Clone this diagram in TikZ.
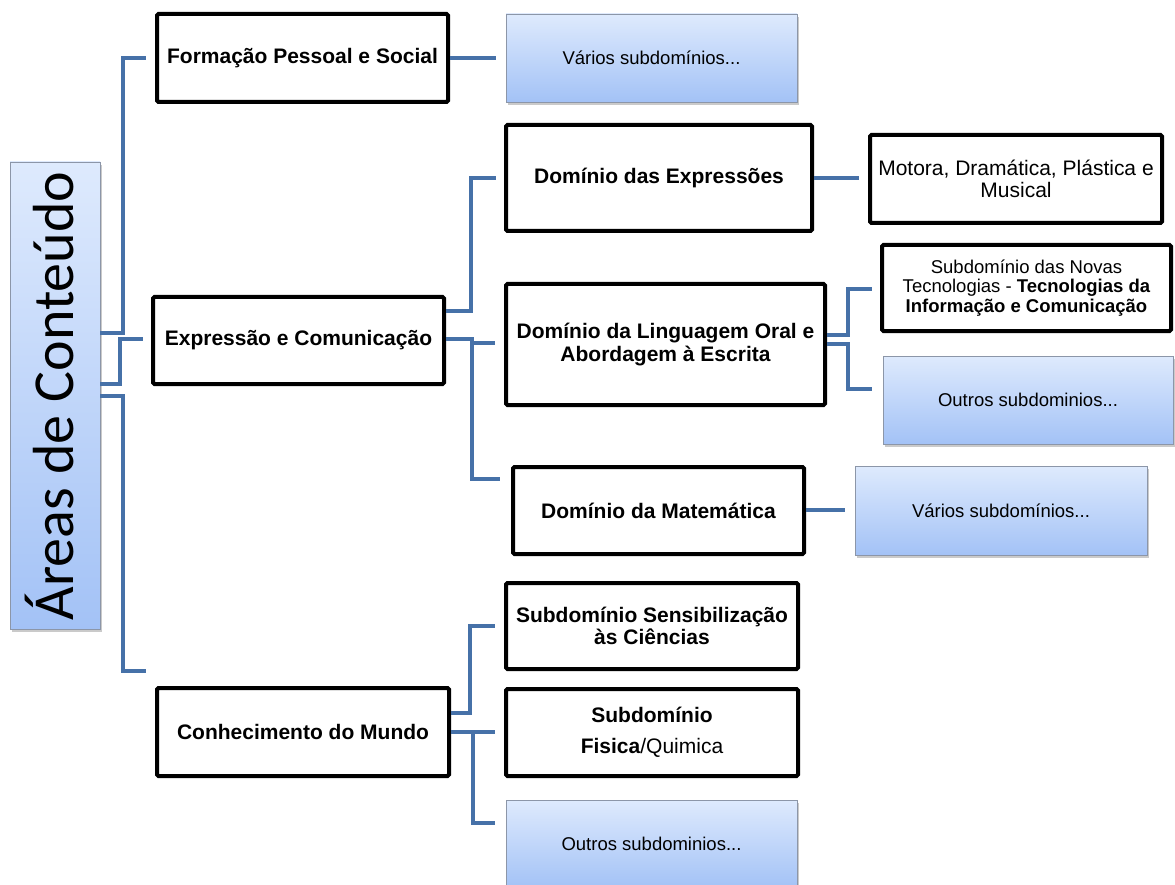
\documentclass[tikz,border=0pt]{standalone}
\usepackage{fontspec}
\setmainfont{Liberation Sans}
\newfontfamily\calib{Carlito}
\usetikzlibrary{shadows}
\definecolor{conncol}{RGB}{70,113,168}
\definecolor{gradtop}{RGB}{222,234,253}
\definecolor{gradbot}{RGB}{163,194,246}
\definecolor{gradedge}{RGB}{140,150,168}
\tikzset{
  blk/.style={draw=black, line width=4pt, rounded corners=1.5pt, fill=white, align=center,
    inner sep=0pt, font=\bfseries\fontsize{21}{22.5}\selectfont},
  grad/.style={draw=gradedge, line width=0.8pt, top color=gradtop, bottom color=gradbot,
    align=center, inner sep=0pt, font=\fontsize{18.5}{20}\selectfont,
    drop shadow={shadow xshift=2pt, shadow yshift=-3pt, opacity=0.35, fill=black!60}},
  conn/.style={draw=conncol, line width=4.5pt},
}
\begin{document}
\begin{tikzpicture}[x=1pt, y=-1pt]
\useasboundingbox (0,0) rectangle (1175,885);

% title box
\node[grad, minimum width=90pt, minimum height=467pt] (areas) at (55,395.5) {};
\node[rotate=90, font=\calib\fontsize{58}{60}\selectfont, inner sep=0pt] (areastxt) at (49,396) {Áreas de Conteúdo};

% level 1
\node[blk, minimum width=291pt, minimum height=88pt] (fps) at (302.5,58) {Formação Pessoal e Social};
\node[blk, minimum width=291pt, minimum height=87pt] (ec) at (298.5,340.5) {Expressão e Comunicação};
\node[blk, minimum width=292pt, minimum height=88pt] (cm) at (303,732) {Conhecimento do Mundo};

% level 2
\node[grad, minimum width=291pt, minimum height=88pt] (v1) at (651.5,58) {Vários subdomínios...};
\node[blk, minimum width=306pt, minimum height=106pt] (de) at (659,178) {Domínio das Expressões};
\node[blk, minimum width=319pt, minimum height=121pt] (dl) at (665.5,344.5) {Domínio da Linguagem Oral e\\Abordagem à Escrita};
\node[blk, minimum width=291pt, minimum height=87pt] (dm) at (658.5,510.5) {Domínio da Matemática};
\node[blk, minimum width=292pt, minimum height=86pt] (sens) at (652,626) {Subdomínio Sensibilização\\às Ciências};
\node[blk, minimum width=292pt, minimum height=87pt] (fis) at (652,732.5) {Subdomínio\\[9pt]Fisica\mdseries/Quimica};
\node[grad, minimum width=291pt, minimum height=88pt] (ou2) at (651.5,844) {Outros subdominios...};

% level 3
\node[blk, minimum width=292pt, minimum height=88pt, font=\fontsize{21}{22.5}\selectfont] (mot) at (1016,179) {Motora, Dramática, Plástica e\\Musical};
\node[blk, minimum width=289pt, minimum height=86pt, font=\fontsize{18.5}{19.5}\selectfont] (nov) at (1026.5,288) {Subdomínio das Novas\\Tecnologias - \textbf{Tecnologias da}\\\textbf{Informação e Comunicação}};
\node[grad, minimum width=290pt, minimum height=88pt] (ou1) at (1028,400) {Outros subdominios...};
\node[grad, minimum width=292pt, minimum height=89pt] (v2) at (1001,510.5) {Vários subdomínios...};

% connectors from title
\coordinate (j1) at (146,58);
\coordinate (j2) at (143,339);
\coordinate (j3) at (146,671);
\draw[conn] (areas.east |- 0,333) -- (123,333) -- (123,58) -- (j1);
\draw[conn] (areas.east |- 0,384) -- (120,384) -- (120,339) -- (j2);
\draw[conn] (areas.east |- 0,396) -- (123,396) -- (123,671) -- (j3);

% Formacao
\coordinate (k1) at (496,58);
\draw[conn] (fps.east) -- (k1);

% Expressao
\coordinate (k2) at (496,178);
\coordinate (k3) at (495,343);
\coordinate (k4) at (500,479);
\draw[conn] (ec.east |- 0,311) -- (471,311) -- (471,178) -- (k2);
\draw[conn] (ec.east |- 0,339) -- (472,339) -- (472,343) -- (k3);
\draw[conn] (472,339) -- (472,479) -- (k4);

% Dominio das Expressoes -> Motora
\coordinate (k5) at (859,178);
\draw[conn] (de.east |- 0,178) -- (k5);

% Linguagem
\coordinate (k6) at (872,289);
\coordinate (k7) at (872,389);
\draw[conn] (dl.east |- 0,335) -- (848,335) -- (848,289) -- (k6);
\draw[conn] (dl.east |- 0,344) -- (848,344) -- (848,389) -- (k7);

% Matematica
\coordinate (k8) at (845,510);
\draw[conn] (dm.east |- 0,510) -- (k8);

% Conhecimento
\coordinate (k9) at (495,626);
\coordinate (k10) at (495,732);
\coordinate (k11) at (495,823);
\draw[conn] (cm.east |- 0,713) -- (470,713) -- (470,626) -- (k9);
\draw[conn] (cm.east |- 0,732) -- (k10);
\draw[conn] (473,732) -- (473,823) -- (k11);
\end{tikzpicture}
\end{document}
